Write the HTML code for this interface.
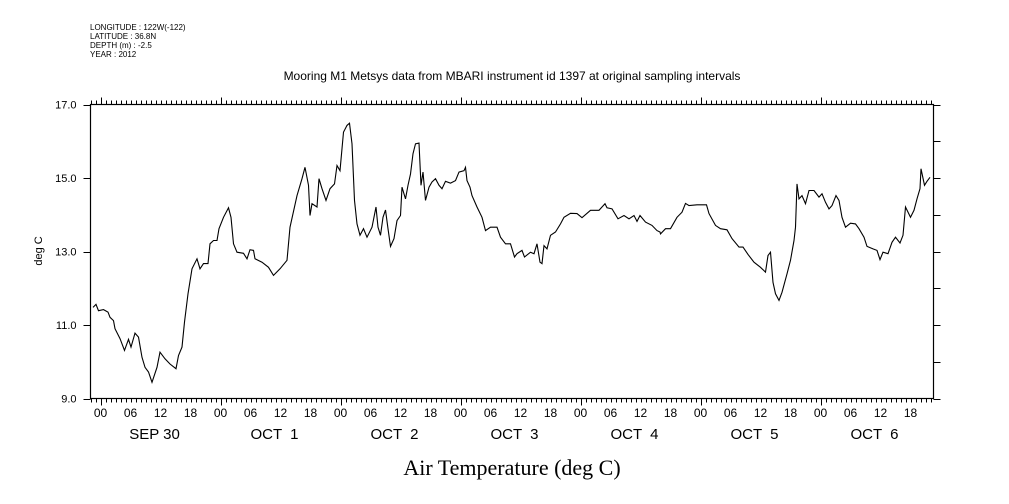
<!DOCTYPE html>
<html><head><meta charset="utf-8"><style>
html,body{margin:0;padding:0;background:#fff;}
svg{display:block;font-family:"Liberation Sans",sans-serif;}
</style></head><body>
<svg id="chart" width="1009" height="504" xmlns="http://www.w3.org/2000/svg">
<g font-size="8" fill="#000">
<text x="90" y="30">LONGITUDE : 122W(-122)</text>
<text x="90" y="39">LATITUDE : 36.8N</text>
<text x="90" y="48">DEPTH (m) : -2.5</text>
<text x="90" y="57">YEAR : 2012</text>
</g>
<text x="512" y="80" text-anchor="middle" font-size="12">Mooring M1 Metsys data from MBARI instrument id 1397 at original sampling intervals</text>
<text transform="translate(42,251) rotate(-90)" text-anchor="middle" font-size="11">deg C</text>
<text x="512" y="475" text-anchor="middle" font-size="22" font-family="Liberation Serif,serif">Air Temperature (deg C)</text>
<g id="axes"></g>
<g id="plot"></g>
</svg>
<script>
const hours = [-1.5,-0.9,-0.4,0.6,1.5,1.9,2.6,2.9,3.9,4.8,5.6,6.1,6.9,7.6,8.3,8.9,9.6,10.3,11.3,11.9,12.9,13.9,15.1,15.6,16.3,16.8,17.5,18.3,19.3,19.9,20.6,21.5,21.9,22.6,23.3,23.7,24.6,25.6,26.1,26.6,27.3,28.6,29.3,29.9,30.6,30.9,32.3,33.6,34.6,35.9,37.3,37.9,39.3,40.3,40.9,41.6,41.9,42.3,43.3,43.7,44.3,45.1,45.9,46.8,47.3,47.9,48.6,49.3,49.8,50.3,50.8,51.3,51.9,52.6,53.3,54.3,55.1,55.5,56.0,56.5,57.0,57.5,58.0,58.7,59.3,60.0,60.3,61.0,61.5,62.0,62.5,63.0,63.7,64.1,64.5,65.0,65.7,66.3,67.0,67.7,68.3,69.0,70.0,71.0,71.7,72.7,73.0,73.3,73.9,74.3,75.3,76.3,77.0,78.0,79.3,80.0,81.0,82.0,82.8,83.3,84.3,84.8,86.0,86.7,87.3,87.9,88.3,88.7,89.3,90.0,91.0,92.0,92.7,94.0,95.3,96.3,98.0,99.7,100.3,100.9,101.3,102.3,103.5,104.7,105.7,106.7,107.3,107.9,109.0,110.3,111.3,111.9,112.0,113.0,114.0,115.3,116.3,117.0,117.7,119.3,121.2,121.7,123.0,124.0,125.3,126.3,127.7,128.5,129.5,130.7,132.0,133.0,133.5,134.0,134.5,135.0,135.7,136.3,137.3,138.0,138.7,139.0,139.3,139.7,140.3,141.0,141.7,142.7,143.7,144.3,145.0,145.7,146.3,147.1,147.7,148.3,149.0,150.0,151.0,151.7,152.7,153.3,154.5,155.3,155.9,156.5,157.5,158.3,159.0,159.9,160.5,161.0,162.0,162.7,163.3,163.9,164.1,164.8,165.3,165.9];
const temps = [11.48,11.56,11.39,11.42,11.35,11.21,11.12,10.90,10.63,10.31,10.61,10.40,10.78,10.67,10.12,9.85,9.72,9.44,9.85,10.26,10.08,9.94,9.81,10.17,10.40,11.08,11.85,12.53,12.80,12.53,12.67,12.67,13.21,13.30,13.30,13.62,13.93,14.19,13.93,13.21,12.98,12.95,12.80,13.05,13.03,12.80,12.71,12.57,12.35,12.53,12.76,13.66,14.52,14.98,15.29,14.80,13.98,14.30,14.21,14.98,14.71,14.39,14.71,14.84,15.34,15.20,16.25,16.43,16.49,15.93,14.39,13.75,13.44,13.62,13.39,13.66,14.21,13.66,13.44,13.93,14.13,13.62,13.14,13.35,13.84,13.98,14.75,14.43,14.80,15.11,15.66,15.93,15.95,14.80,15.16,14.39,14.75,14.89,14.98,14.80,14.71,14.91,14.86,14.93,15.16,15.20,15.29,14.93,14.75,14.52,14.21,13.93,13.57,13.66,13.66,13.39,13.21,13.21,12.85,12.94,13.03,12.85,12.98,12.94,13.21,12.71,12.67,13.16,13.07,13.44,13.53,13.75,13.93,14.04,14.03,13.92,14.12,14.12,14.21,14.30,14.19,14.16,13.89,13.98,13.89,13.98,13.82,13.98,13.80,13.71,13.57,13.53,13.48,13.62,13.62,13.93,14.07,14.31,14.25,14.27,14.27,14.03,13.71,13.62,13.59,13.35,13.12,13.12,12.92,12.71,12.57,12.44,12.89,12.98,12.16,11.85,11.67,11.89,12.39,12.76,13.30,13.66,14.84,14.43,14.52,14.30,14.66,14.66,14.48,14.57,14.34,14.16,14.25,14.52,14.39,13.93,13.66,13.77,13.75,13.62,13.39,13.14,13.07,13.03,12.78,12.98,12.94,13.25,13.39,13.23,13.44,14.21,13.93,14.12,14.43,14.71,15.25,14.80,14.91,15.02];
const yTickLabels = ["9.0","11.0","13.0","15.0","17.0"];
const dayLabels = ["SEP 30","OCT  1","OCT  2","OCT  3","OCT  4","OCT  5","OCT  6"];
const hourLabels = ["00","06","12","18"];

const L=90.5, R=933.5, T=104.5, B=398.5;
const X = h => 100.5 + h*5;
const Y = v => B - (v-9)*(B-T)/8;
const NS="http://www.w3.org/2000/svg";
const axes=document.getElementById('axes'), plot=document.getElementById('plot');
function mk(tag, attrs, parent){const e=document.createElementNS(NS,tag);for(const k in attrs)e.setAttribute(k,attrs[k]);parent.appendChild(e);return e;}

const frame=mk('rect',{x:L,y:T,width:R-L,height:B-T,fill:'none',stroke:'#000','stroke-width':1.2},axes);



// hourly ticks
let tp='';
for(let h=-2; X(h)<=R+0.1; h++){
  const x=Math.round(X(h))+0.5;
  const len = (h%24===0)?7:4;
  tp+=`M${x} ${B}V${B+len}M${x} ${T}V${T-len}`;
}
const ht=mk('path',{d:tp,stroke:'#000','stroke-width':1,fill:'none'},axes);



// y ticks
let yp='';
for(let v=9; v<=17; v++){
  const y=Math.round(Y(v))+0.5;
  yp+=`M${R} ${y}H${R+7}`;
  if(v%2===1) yp+=`M${L} ${y}H${L-7}`;
}
const yt=mk('path',{d:yp,stroke:'#000','stroke-width':1,fill:'none'},axes);



yTickLabels.forEach(s=>{
  const t=mk('text',{x:L-14,y:Y(parseFloat(s))+4,'text-anchor':'end','font-size':11},axes);
  t.textContent=s;
  
  
});

for(let d=0; d<dayLabels.length; d++){
  hourLabels.forEach(hl=>{
    const h=d*24+parseInt(hl,10);
    const t=mk('text',{x:X(h),y:417,'text-anchor':'middle','font-size':12},axes);
    t.textContent=hl;
    
    
  });
  const t=mk('text',{x:X(d*24+10.8),y:439,'text-anchor':'middle','font-size':15,'xml:space':'preserve'},axes);
  t.style.whiteSpace='pre';
  t.textContent=dayLabels[d];
  
  
}

let d='';
hours.forEach((h,i)=>{d+=(i?'L':'M')+X(h).toFixed(1)+' '+Y(temps[i]).toFixed(1);});
const line=mk('path',{d:d,fill:'none',stroke:'#000','stroke-width':1.1},plot);


</script>
</body></html>
